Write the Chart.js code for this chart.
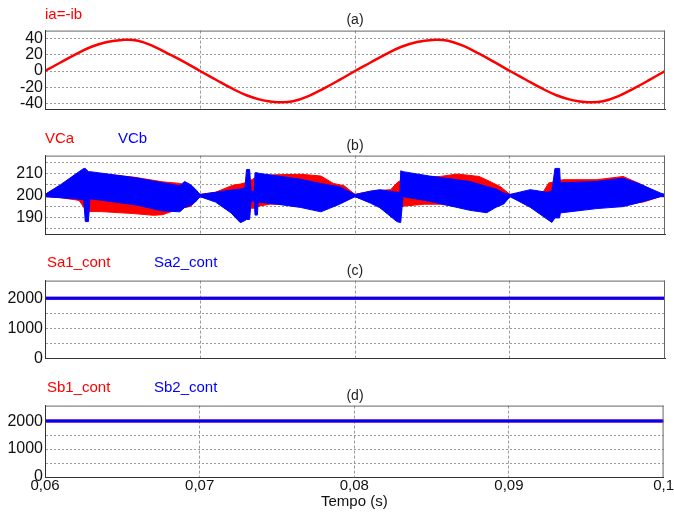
<!DOCTYPE html>
<html>
<head>
<meta charset="utf-8">
<script src="https://cdn.jsdelivr.net/npm/chart.js@4.4.0/dist/chart.umd.min.js"></script>
<style>
body { margin: 0; background: #fff; width: 674px; height: 512px; position: relative; overflow: hidden; font-family: "Liberation Sans", Arial, sans-serif; }
canvas { position: absolute; left: 0; }
.lbl { position: absolute; font-size: 15px; line-height: 18px; white-space: nowrap; }
.ttl { position: absolute; font-size: 14px; line-height: 16px; color: #222; transform: translateX(-50%); }
</style>
</head>
<body>
<canvas id="chartA" width="674" height="102" style="top:19px"></canvas>
<canvas id="chartB" width="674" height="102" style="top:144px"></canvas>
<canvas id="chartC" width="674" height="101" style="top:269px"></canvas>
<canvas id="chartD" width="674" height="118" style="top:394px"></canvas>

<div class="lbl" style="left:45px;top:5px;color:#f00">ia=-ib</div>
<div class="ttl" style="left:355px;top:11px">(a)</div>
<div class="lbl" style="left:45px;top:129px;color:#f00">VCa</div>
<div class="lbl" style="left:118px;top:129px;color:#00f">VCb</div>
<div class="ttl" style="left:355px;top:137px">(b)</div>
<div class="lbl" style="left:47px;top:253px;color:#f00">Sa1_cont</div>
<div class="lbl" style="left:154px;top:253px;color:#00f">Sa2_cont</div>
<div class="ttl" style="left:355px;top:262px">(c)</div>
<div class="lbl" style="left:47px;top:378px;color:#f00">Sb1_cont</div>
<div class="lbl" style="left:154px;top:378px;color:#00f">Sb2_cont</div>
<div class="ttl" style="left:355px;top:387px">(d)</div>

<script>
// time axis
const tTicks = [0.06, 0.07, 0.08, 0.09, 0.1];
const tLabels = ["0,06", "0,07", "0,08", "0,09", "0,1"];

// (a) ia = -ib
const tIa = [0.060, 0.061, 0.062, 0.063, 0.064, 0.065, 0.066, 0.067, 0.068, 0.069,
             0.070, 0.071, 0.072, 0.073, 0.074, 0.075, 0.076, 0.077, 0.078, 0.079,
             0.080, 0.081, 0.082, 0.083, 0.084, 0.085, 0.086, 0.087, 0.088, 0.089,
             0.090, 0.091, 0.092, 0.093, 0.094, 0.095, 0.096, 0.097, 0.098, 0.099, 0.100];
const ia = [0, 10.5, 21, 30, 36, 38.5, 37.5, 30.5, 21, 11,
            0, -10.5, -21, -30, -36, -38.5, -37.5, -31, -21.5, -11,
            0, 10.5, 21, 30, 36, 38.5, 37.5, 31, 21.5, 11,
            0, -10.5, -21, -30, -36, -38.5, -37.5, -31, -21.5, -11, 0];

// (b) VCb ripple band (upper / lower envelope)
const tVCb = [0.0600, 0.0610, 0.0620, 0.0625, 0.0626, 0.0628, 0.0629, 0.0645, 0.0660, 0.0675, 0.0687, 0.0690, 0.0694, 0.0697,
              0.0700, 0.0710, 0.0720, 0.0726, 0.0729, 0.0730, 0.0732, 0.0733, 0.0735, 0.07355, 0.0737, 0.07375, 0.0750, 0.0765, 0.0778, 0.0790,
              0.0800, 0.0810, 0.0816, 0.0827, 0.0829, 0.08295, 0.0831, 0.0848, 0.0874, 0.0885, 0.0891, 0.0896,
              0.0900, 0.0913, 0.0924, 0.0927, 0.0929, 0.0932, 0.09325, 0.0956, 0.0973, 0.0982, 0.0997, 0.1000];
const vcbHi = [200.5, 205, 210, 212.5, 212.5, 211, 211, 209.5, 208, 206, 204.5, 206.5, 205, 203,
               200.5, 201.5, 202.5, 203, 203.5, 212, 212, 202, 202, 210.5, 210.5, 210.3, 209, 207.5, 205.5, 204,
               200.5, 202, 202.7, 201.5, 201.5, 211.4, 211, 209, 206.5, 204.2, 203, 201.2,
               200.5, 202.7, 201.5, 202, 212.5, 212.5, 205.8, 206.5, 208, 205.8, 201.2, 200.5];
const vcbLo = [199.5, 199, 198.5, 198, 188, 188, 198.5, 197, 195.5, 193, 192.5, 194.5, 195.5, 197,
               199.5, 197, 192, 187.5, 188.5, 189, 189, 197.5, 197.5, 191, 191, 197, 196, 194.5, 192.5, 196,
               199.5, 196.5, 194.4, 188, 187.6, 187.6, 199.5, 197.4, 193.2, 192.1, 194.6, 196.1,
               199.5, 194.6, 189.1, 187.6, 189.7, 189.7, 192, 194, 194.9, 196.5, 199.5, 199.5];

// (b) VCa ripple band (upper / lower envelope)
const tVCa = [0.0600, 0.0610, 0.0620, 0.0622, 0.0627, 0.0636, 0.0657, 0.0670, 0.0676, 0.0687, 0.0694,
              0.0700, 0.0710, 0.0721, 0.0726, 0.0730, 0.0734, 0.0737, 0.0745, 0.0765, 0.0778, 0.0786, 0.0793,
              0.0800, 0.0810, 0.0823, 0.0828, 0.0831, 0.0845, 0.0855, 0.0866, 0.0880, 0.0887, 0.0894,
              0.0900, 0.0913, 0.0921, 0.0925, 0.0930, 0.0934, 0.0956, 0.0973, 0.0986, 0.0997, 0.1000];
const vcaHi = [200.5, 204.5, 209.5, 210, 210.5, 210, 208.5, 207, 206.3, 205.6, 204,
               200.5, 201.5, 204.7, 205.3, 206, 207.5, 209, 209.5, 209.8, 209, 205.6, 204.5,
               200.5, 202, 202.7, 206.5, 207, 208.5, 208.8, 209.9, 208.8, 206.5, 204,
               200.5, 202, 201.2, 205.8, 206.5, 207.3, 207.3, 208.8, 204.7, 200.5, 200.5];
const vcaLo = [199.5, 199, 198, 197.7, 192.6, 192.6, 191.7, 190.9, 191.2, 194, 195,
               199.5, 198, 197, 196, 195, 194, 195, 196, 196, 195, 196.5, 197.5,
               199.5, 197, 196, 194, 195.1, 196, 196, 195, 194, 194, 196,
               199.5, 196, 195, 194, 194, 195, 196, 196, 197, 199.5, 199.5];

// (c), (d) control signals
const tSw = [0.06, 0.1];
const sa1 = [2000, 2000];
const sa2 = [2000, 2000];
const sb1 = [2000, 2000];
const sb2 = [2000, 2000];

// y ticks
const yTicksA = [-40, -20, 0, 20, 40];
const yTicksB = [185, 190, 195, 200, 205, 210, 215];
const yLabelsB = [190, 200, 210];
const yTicksC = [0, 500, 1000, 1500, 2000];
const yLabelsC = [0, 1000, 2000];

const RED = "#ff0000";
const BLUE = "#0000ff";

function pts(t, v) {
    return t.map((x, i) => ({ x: x, y: v[i] }));
}

// plot frame on top of the data
const frame = {
    id: "frame",
    afterDatasetsDraw(chart) {
        const a = chart.chartArea;
        const ctx = chart.ctx;
        ctx.save();
        ctx.lineWidth = 1;
        ctx.strokeStyle = "#666";
        ctx.beginPath();
        ctx.moveTo(a.left, a.top + 0.5);
        ctx.lineTo(a.right, a.top + 0.5);
        ctx.moveTo(a.right - 0.5, a.top);
        ctx.lineTo(a.right - 0.5, a.bottom);
        ctx.stroke();
        ctx.strokeStyle = "#333";
        ctx.beginPath();
        ctx.moveTo(a.left + 0.5, a.top);
        ctx.lineTo(a.left + 0.5, a.bottom);
        ctx.stroke();
        ctx.restore();
    }
};

const xFont = { family: "'Liberation Sans', Arial, sans-serif", size: 15 };
const yFont = { family: "'Liberation Sans', Arial, sans-serif", size: 16 };

function makeChart(id, datasets, yMin, yMax, yTicks, yLabels, bottomSpace, showX) {
    return new Chart(document.getElementById(id), {
        type: "line",
        data: { datasets: datasets },
        options: {
            responsive: false,
            animation: false,
            devicePixelRatio: 1,
            layout: { padding: { top: 10, right: 9, left: 0, bottom: 0 }, autoPadding: false },
            plugins: { legend: { display: false }, tooltip: { enabled: false } },
            elements: { point: { radius: 0 } },
            scales: {
                x: {
                    type: "linear",
                    min: 0.06,
                    max: 0.1,
                    afterBuildTicks: s => { s.ticks = tTicks.map(v => ({ value: v })); },
                    afterFit: s => { s.height = bottomSpace; },
                    grid: {
                        drawTicks: false,
                        color: c => (c.index === 0 || c.index === tTicks.length - 1) ? "rgba(0,0,0,0)" : "#9a9a9a"
                    },
                    border: { color: "#333", dash: [3, 2] },
                    ticks: {
                        display: showX,
                        padding: 0,
                        maxRotation: 0,
                        autoSkip: false,
                        color: "#111",
                        font: xFont,
                        callback: (v, i) => tLabels[i]
                    },
                    title: {
                        display: showX,
                        text: "Tempo (s)",
                        color: "#111",
                        font: xFont,
                        padding: { top: 0, bottom: 1 }
                    }
                },
                y: {
                    min: yMin,
                    max: yMax,
                    afterBuildTicks: s => { s.ticks = yTicks.map(v => ({ value: v })); },
                    afterFit: s => { s.width = 45; },
                    grid: { drawTicks: false, color: "#9a9a9a" },
                    border: { color: "#333", dash: [2, 2] },
                    ticks: {
                        padding: 2,
                        autoSkip: false,
                        color: "#111",
                        font: yFont,
                        callback: v => yLabels.includes(v) ? String(v) : ""
                    }
                }
            }
        },
        plugins: [frame]
    });
}

makeChart("chartA", [
    { data: pts(tIa, ia), borderColor: RED, borderWidth: 2.5, tension: 0.4 }
], -47.5, 50, yTicksA, yTicksA, 10, false);

makeChart("chartB", [
    { data: pts(tVCb, vcbHi), borderColor: BLUE, backgroundColor: BLUE, borderWidth: 1, fill: "+1" },
    { data: pts(tVCb, vcbLo), borderColor: BLUE, borderWidth: 1 },
    { data: pts(tVCa, vcaHi), borderColor: RED, backgroundColor: RED, borderWidth: 1, fill: "+1" },
    { data: pts(tVCa, vcaLo), borderColor: RED, borderWidth: 1 }
], 182.1, 218.4, yTicksB, yLabelsB, 10, false);

makeChart("chartC", [
    { data: pts(tSw, sa2), borderColor: BLUE, borderWidth: 3 },
    { data: pts(tSw, sa1), borderColor: RED, borderWidth: 3 }
], 0, 2584, yTicksC, yLabelsC, 10, false);

makeChart("chartD", [
    { data: pts(tSw, sb2), borderColor: BLUE, borderWidth: 3 },
    { data: pts(tSw, sb1), borderColor: RED, borderWidth: 3 }
], 0, 2555, yTicksC, yLabelsC, 35, true);
</script>
</body>
</html>
